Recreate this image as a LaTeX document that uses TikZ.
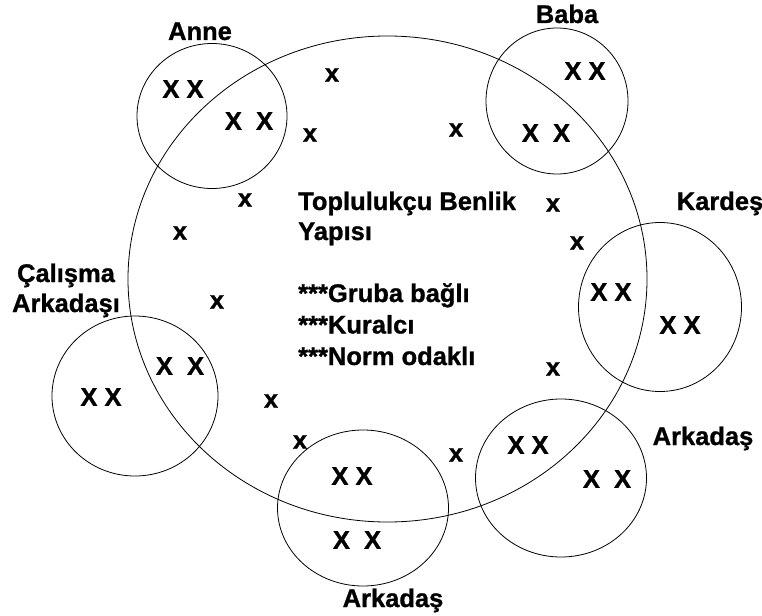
\documentclass[tikz,border=0pt]{standalone}
\usepackage{fontspec}
\setmainfont{Liberation Sans}[BoldFeatures={FakeBold=1}]
\usetikzlibrary{shapes.geometric}

\tikzset{
  grp/.style={draw,ellipse,line width=0.8pt,inner sep=0pt},
  mk/.style={font=\fontsize{25.5}{30}\selectfont\bfseries,inner sep=0pt},
  lbl/.style={font=\fontsize{25.5}{30}\selectfont\bfseries,inner sep=0pt,anchor=base}
}

\begin{document}
\begin{tikzpicture}[x=1pt,y=-1pt]
			\useasboundingbox (0,0) rectangle (762,615);
			% ana halka ve gruplar
			\node[grp,minimum width=519pt,minimum height=486pt] (ben) at (387.5,279) {};
			\node[grp,minimum width=150pt,minimum height=145pt] (anne) at (212,116) {};
			\node[grp,minimum width=142pt,minimum height=146pt] (baba) at (557,101) {};
			\node[grp,minimum width=163pt,minimum height=169pt] (kardes) at (660,307) {};
			\node[grp,minimum width=166pt,minimum height=160pt] (calisma) at (135,396) {};
			\node[grp,minimum width=171pt,minimum height=158pt] (arkR) at (561,478) {};
			\node[grp,minimum width=171pt,minimum height=156pt] (arkB) at (363,508) {};
			% etiketler
			\node[lbl] (lanne) at (200,40) {Anne};
			\node[lbl] (lbaba) at (567,23) {Baba};
			\node[lbl] (lkardes) at (720,210) {Kardeş};
			\node[lbl,align=center] (lcalisma) at (66,312) {Çalışma\\Arkadaşı};
			\node[lbl] (larkR) at (703,445) {Arkadaş};
			\node[lbl] (larkB) at (393,607) {Arkadaş};
			% orta metin
			\node[lbl,anchor=base west,align=left] (baslik) at (298,240) {Toplulukçu Benlik\\Yapısı};
			\node[lbl,anchor=base west,align=left] (liste) at (298,365) {***Gruba bağlı\\[1.5pt]***Kuralcı\\[1.5pt]***Norm odaklı};
			% kisiler
			\foreach \a/\b [count=\i] in {332/75,310/135,245/200,180/233,217/302,456/130,553/205,577/243,553/369,456/455,271/401,300/442}
			\node[mk] (x\i) at (\a,\b) {x};
			\foreach \a/\b [count=\i] in {183/89,101/397,585/71,611/292,680/325,528/445,352/476}
			\node[mk] (xx\i) at (\a,\b) {X X};
			\foreach \a/\b [count=\i] in {249/121,546/133,180/366,607/479,357/540}
			\node[mk] (xw\i) at (\a,\b) {X\ \ X};
\end{tikzpicture}
\end{document}
